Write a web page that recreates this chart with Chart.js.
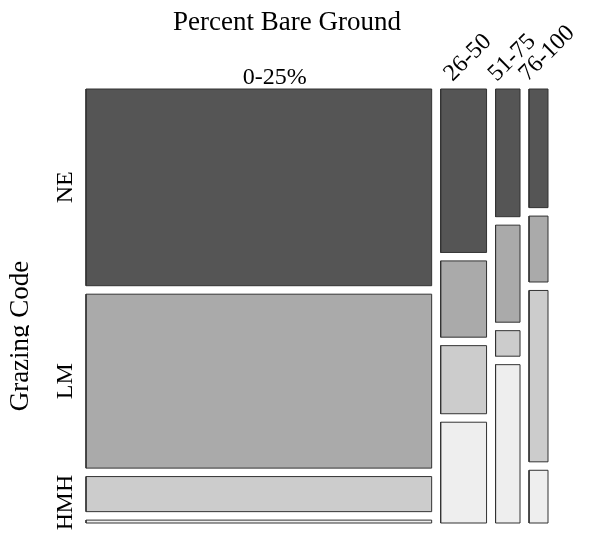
<!DOCTYPE html>
<html>
<head>
<meta charset="utf-8">
<script src="https://cdn.jsdelivr.net/npm/chart.js@4.4.0/dist/chart.umd.min.js"></script>
<style>
  html, body { margin: 0; padding: 0; background: #fff; }
</style>
</head>
<body>
<canvas id="mosaic" width="592" height="535"></canvas>
<script>
// Percent bare ground classes (columns) and grazing codes (rows)
var bareGround = ['0-25%', '26-50', '51-75', '76-100'];
var grazing = ['NE', 'LM', 'MH', 'H'];

// counts per grazing code, one value per bare ground class
var countsNE = [544, 60, 25, 18];
var countsLM = [481, 28, 19, 10];
var countsMH = [97, 25, 5, 26];
var countsH = [8, 37, 31, 8];

var rows = [countsNE, countsLM, countsMH, countsH];
var shades = ['#555555', '#aaaaaa', '#cccccc', '#eeeeee'];
var gap = 0.0207;
var axisMax = 1 + 3 * gap;

// column totals and grand total
var colTotals = bareGround.map(function(_, i) {
    return rows.reduce(function(s, r) { return s + r[i]; }, 0);
});
var grand = colTotals.reduce(function(a, b) { return a + b; }, 0);

// build one closed shape per cell
var datasets = [];
var colCenters = [];
var rowCenters = [];
var xStart = 0;
for (var i = 0; i < bareGround.length; i++) {
    var w = colTotals[i] / grand;
    var x0 = xStart, x1 = xStart + w;
    colCenters.push((x0 + x1) / 2);
    var yTop = axisMax;
    for (var j = 0; j < grazing.length; j++) {
        var h = rows[j][i] / colTotals[i];
        var yb = yTop - h;
        if (i === 0) rowCenters.push((yTop + yb) / 2);
        datasets.push({
            label: grazing[j] + ' / ' + bareGround[i],
            data: [
                {x: x0, y: yb}, {x: x1, y: yb}, {x: x1, y: yTop},
                {x: x0, y: yTop}, {x: x0, y: yb}
            ],
            showLine: true,
            fill: 'shape',
            backgroundColor: shades[j],
            borderColor: '#333333',
            borderWidth: 1,
            pointRadius: 0,
            tension: 0,
            clip: false
        });
        yTop = yb - gap;
    }
    xStart = x1 + gap;
}

// text around the mosaic
var labelsPlugin = {
    id: 'mosaicLabels',
    afterDraw: function(chart) {
        var c = chart.ctx;
        var xs = chart.scales.x, ys = chart.scales.y;
        var serif = '"Liberation Serif", "Times New Roman", serif';
        c.save();
        c.fillStyle = '#000';
        c.font = '27px ' + serif;
        c.textAlign = 'center';
        c.textBaseline = 'alphabetic';
        c.fillText('Percent Bare Ground', 287, 30);

        c.font = '24px ' + serif;
        c.fillText(bareGround[0], xs.getPixelForValue(colCenters[0]) + 16, 84);
        for (var i = 1; i < bareGround.length; i++) {
            c.save();
            c.translate(xs.getPixelForValue(colCenters[i]) - 11, 82);
            c.rotate(-Math.PI / 4);
            c.textAlign = 'left';
            c.fillText(bareGround[i], 0, 0);
            c.restore();
        }
        for (var j = 0; j < grazing.length; j++) {
            c.save();
            c.translate(72, ys.getPixelForValue(rowCenters[j]));
            c.rotate(-Math.PI / 2);
            c.textAlign = 'center';
            c.fillText(grazing[j], 0, 0);
            c.restore();
        }

        // y title, clipped like the reference
        c.beginPath();
        c.rect(0, 0, 29, chart.height);
        c.clip();
        c.translate(28, 336);
        c.rotate(-Math.PI / 2);
        c.font = '27px ' + serif;
        c.textAlign = 'center';
        c.fillText('Grazing Code', 0, 0);
        c.restore();
    }
};

new Chart(document.getElementById('mosaic').getContext('2d'), {
    type: 'scatter',
    data: { datasets: datasets },
    options: {
        responsive: false,
        animation: false,
        layout: { padding: { left: 86, right: 44, top: 89, bottom: 12 } },
        scales: {
            x: { type: 'linear', min: 0, max: axisMax, display: false },
            y: { type: 'linear', min: 0, max: axisMax, display: false }
        },
        plugins: {
            legend: { display: false },
            tooltip: { enabled: false }
        }
    },
    plugins: [labelsPlugin]
});
</script>
</body>
</html>
